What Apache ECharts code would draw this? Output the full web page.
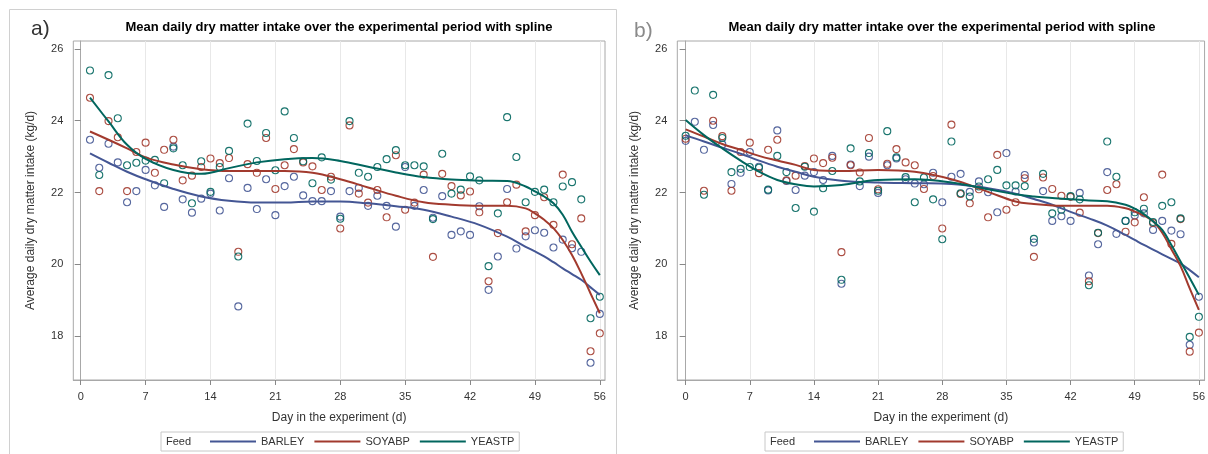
<!DOCTYPE html>
<html><head><meta charset="utf-8">
<script src="https://cdn.jsdelivr.net/npm/echarts@6/dist/echarts.min.js"></script>
<style>html,body{margin:0;padding:0;background:#fff}#c{width:1208px;height:454px}</style>
</head><body><div id="c"></div>
<script>
const FEEDS = ['BARLEY', 'SOYABP', 'YEASTP'];
const COLORS = ['#445694', '#A23A2E', '#01665E'];
const TITLE = 'Mean daily dry matter intake over the experimental period with spline';
const X_NAME = 'Day in the experiment (d)';
const Y_NAME = 'Average daily dry matter intake (kg/d)';
const xTicks = [0, 7, 14, 21, 28, 35, 42, 49, 56];
const yTicks = [18, 20, 22, 24, 26];

// ---- panel a: observed means ----
const daysA = [1,2,3,4,5,6,7,8,9,10,11,12,13,14,15,16,17,18,19,20,21,22,23,24,25,26,27,28,29,30,31,32,33,34,35,36,37,38,39,40,41,42,43,44,45,46,47,48,49,50,51,52,53,54,55,56];
const barleyA = [23.47,22.69,23.36,22.84,21.73,22.04,22.63,22.20,21.60,23.28,21.81,21.44,21.83,21.97,21.50,22.40,18.83,22.13,21.54,22.37,21.37,22.18,22.44,21.92,21.76,21.76,22.04,21.33,22.04,22.13,21.63,21.91,21.63,21.05,22.71,21.63,22.07,21.30,21.90,20.82,20.92,20.82,21.62,19.29,20.22,22.10,20.44,20.78,20.95,20.88,20.47,20.69,20.45,20.35,17.26,18.62];
const soyabpA = [24.64,22.04,23.99,23.54,22.04,23.13,23.39,22.55,23.19,23.47,22.34,22.47,22.71,22.95,22.82,22.96,20.35,22.79,22.55,23.52,22.10,22.76,23.21,22.84,22.73,22.07,22.44,21.00,23.87,21.97,21.72,22.07,21.31,23.04,21.52,21.72,22.50,20.21,22.52,22.18,21.92,22.03,21.45,19.53,20.87,21.73,22.22,20.92,21.37,21.87,21.10,22.50,20.56,21.28,17.58,18.08];
const yeastpA = [25.40,22.49,25.27,24.07,22.76,22.83,22.89,22.91,22.26,23.23,22.76,21.70,22.87,22.02,22.71,23.16,20.22,23.92,22.88,23.66,22.62,24.26,23.52,22.87,22.26,22.98,22.36,21.27,23.99,22.55,22.44,22.71,22.93,23.18,22.76,22.76,22.73,21.26,23.08,21.97,22.08,22.45,22.34,19.95,21.42,24.10,22.99,21.73,22.02,22.08,21.73,22.17,22.29,21.81,18.50,19.10];

// ---- panel a: spline curves ----
const splineDaysA = [1,3,5,7,10,13,16,19,22,25,28,31,34,37,40,43,46,48,49,50,51,52,53,54,55,56];
const barleySplineA = [23.09,22.83,22.58,22.37,22.10,21.89,21.77,21.72,21.72,21.75,21.75,21.70,21.62,21.52,21.33,21.10,20.77,20.49,20.36,20.22,20.06,19.89,19.73,19.57,19.36,19.15];
const soyabpSplineA = [23.70,23.47,23.23,22.98,22.78,22.65,22.60,22.60,22.60,22.55,22.37,22.14,21.91,21.73,21.66,21.63,21.63,21.56,21.42,21.24,21.01,20.68,20.26,19.75,19.19,18.64];
const yeastpSplineA = [24.64,23.98,23.33,22.94,22.63,22.52,22.68,22.84,22.93,22.96,22.88,22.72,22.56,22.43,22.36,22.33,22.32,22.17,22.03,21.89,21.70,21.38,20.91,20.49,20.08,19.70];

// ---- panel b: observed means ----
const daysB = [0,1,2,3,4,5,6,7,8,9,10,11,12,13,14,15,16,17,18,19,20,21,22,23,24,25,26,27,28,29,30,31,32,33,34,35,36,37,38,39,40,41,42,43,44,45,46,47,48,49,50,51,52,53,54,55,56];
const barleyB = [23.44,23.97,23.19,23.88,23.34,22.24,22.55,23.13,22.72,22.06,23.73,22.32,22.07,22.47,22.57,22.35,23.02,19.46,22.78,22.18,23.00,21.99,22.76,22.95,22.37,22.25,22.23,22.55,21.73,22.44,22.52,22.02,22.31,22.01,21.45,23.10,22.03,22.49,20.61,22.04,21.21,21.34,21.21,21.99,19.69,20.56,22.57,20.85,21.21,21.36,21.42,20.96,21.21,20.94,20.84,17.76,19.10];
const soyabpB = [23.50,null,22.05,24.00,23.57,22.05,23.13,23.39,22.54,23.19,23.47,22.34,22.47,22.74,22.95,22.82,22.97,20.34,22.76,22.56,23.52,22.09,22.80,23.21,22.84,22.76,22.10,22.46,21.00,23.89,21.96,21.70,22.09,21.31,23.05,21.52,21.73,22.40,20.21,22.42,22.10,21.91,21.88,21.44,19.53,20.87,22.07,22.23,20.91,21.17,21.87,21.15,22.50,20.57,21.26,17.57,18.10];
const yeastpB = [23.58,24.84,21.94,24.72,23.52,22.57,22.66,22.71,22.69,22.08,23.02,22.57,21.57,22.72,21.47,22.12,22.60,19.57,23.23,22.31,23.10,22.05,23.71,22.98,22.43,21.73,22.42,21.81,20.70,23.42,21.98,21.89,22.17,22.37,22.63,22.20,22.20,22.18,20.71,22.52,21.42,21.52,21.90,21.81,19.42,20.88,23.42,22.44,21.21,21.45,21.55,21.18,21.63,21.73,21.28,17.98,18.54];

// ---- panel b: spline curves ----
const splineDaysB = [0,2,4,6,8,10,12,14,17,21,25,29,33,36,38,40,42,44,46,48,49,50,51,52,53,54,55,56];
const barleySplineB = [23.60,23.42,23.25,23.08,22.89,22.72,22.58,22.44,22.33,22.28,22.26,22.24,22.12,21.97,21.82,21.66,21.46,21.28,21.08,20.82,20.68,20.54,20.41,20.28,20.15,20.02,19.84,19.64];
const soyabpSplineB = [23.76,23.56,23.35,23.19,23.02,22.89,22.77,22.63,22.60,22.63,22.58,22.37,22.02,21.75,21.68,21.64,21.63,21.63,21.63,21.56,21.47,21.36,21.20,20.88,20.42,19.95,19.33,18.73];
const yeastpSplineB = [24.02,23.60,23.23,22.89,22.58,22.35,22.23,22.17,22.21,22.35,22.37,22.28,22.09,21.95,21.89,21.85,21.81,21.78,21.76,21.66,21.55,21.40,21.20,20.96,20.54,20.08,19.62,19.15];

function pairs(days, vals) {
  const out = [];
  days.forEach((d, i) => { if (vals[i] != null) out.push([d, vals[i]]); });
  return out;
}

const FONT = 'Liberation Sans, Arial, sans-serif';
const obsA = [barleyA, soyabpA, yeastpA];
const splA = [barleySplineA, soyabpSplineA, yeastpSplineA];
const obsB = [barleyB, soyabpB, yeastpB];
const splB = [barleySplineB, soyabpSplineB, yeastpSplineB];

function panelAxes(idx, xmin, xmax) {
  const xAxis = {
    type: 'value', gridIndex: idx, min: xmin, max: xmax,
    name: X_NAME, nameLocation: 'middle', nameGap: 32,
    nameTextStyle: { fontFamily: FONT, fontSize: 12, color: '#333' },
    axisLine: { show: true, lineStyle: { color: '#a8a8a8' } },
    axisTick: { show: true, length: 5, lineStyle: { color: '#888' }, customValues: xTicks },
    axisLabel: { fontFamily: FONT, fontSize: 11, color: '#333', margin: 11, customValues: xTicks },
    splitLine: { show: true, lineStyle: { color: '#e8e8e8', width: 1 } }
  };
  const yAxis = {
    type: 'value', gridIndex: idx, min: 16.78, max: 26.22,
    name: Y_NAME, nameLocation: 'middle', nameGap: 37, nameRotate: 90,
    nameTextStyle: { fontFamily: FONT, fontSize: 12, color: '#333' },
    axisLine: { show: true, lineStyle: { color: '#a8a8a8' } },
    axisTick: { show: true, length: 6, lineStyle: { color: '#888' }, customValues: yTicks },
    axisLabel: { fontFamily: FONT, fontSize: 11, color: '#333', margin: 10, customValues: yTicks },
    splitLine: { show: false }
  };
  return [xAxis, yAxis];
}

const [xa, ya] = panelAxes(0, -0.8, 56.56);
const [xb, yb] = panelAxes(1, -0.91, 56.62);

const series = [];
[[daysA, obsA, splineDaysA, splA, 0], [daysB, obsB, splineDaysB, splB, 1]].forEach(([days, obs, sd, spl, p]) => {
  FEEDS.forEach((f, k) => {
    series.push({
      name: f + ' obs ' + p, type: 'scatter', xAxisIndex: p, yAxisIndex: p,
      data: pairs(days, obs[k]), symbol: 'circle', symbolSize: 7, silent: true, z: 2,
      itemStyle: { color: 'rgba(255,255,255,0)', borderColor: COLORS[k], borderWidth: 1.1, opacity: 0.9 }
    });
  });
  FEEDS.forEach((f, k) => {
    series.push({
      name: f, type: 'line', xAxisIndex: p, yAxisIndex: p,
      data: pairs(sd, spl[k]), smooth: 0.4, symbol: 'none', silent: true, z: 3,
      lineStyle: { color: COLORS[k], width: 2 }, itemStyle: { color: COLORS[k] }
    });
  });
});

function legendAt(left) {
  return {
    data: FEEDS.map(n => ({ name: n, icon: 'rect' })), left: left, top: 432, orient: 'horizontal',
    padding: [3, 5, 3, 49], itemWidth: 46, itemHeight: 2, itemGap: 10,
    borderColor: '#c8c8c8', borderWidth: 1, selectedMode: false,
    textStyle: { fontFamily: FONT, fontSize: 11, color: '#333', lineHeight: 13 }
  };
}

const option = {
  animation: false,
  backgroundColor: '#fff',
  title: [
    { text: TITLE, left: 339, top: 21, textAlign: 'center', padding: 0,
      textStyle: { fontFamily: FONT, fontSize: 13, fontWeight: 'bold', color: '#000' } },
    { text: TITLE, left: 942, top: 21, textAlign: 'center', padding: 0,
      textStyle: { fontFamily: FONT, fontSize: 13, fontWeight: 'bold', color: '#000' } }
  ],
  grid: [
    { left: 73.3, top: 41, width: 531.7, height: 339, show: true, borderColor: '#a8a8a8', borderWidth: 1, backgroundColor: 'transparent' },
    { left: 677.3, top: 41, width: 529.7, height: 339, show: true, borderColor: '#a8a8a8', borderWidth: 1, backgroundColor: 'transparent' }
  ],
  xAxis: [xa, xb],
  yAxis: [ya, yb],
  legend: [legendAt(161), legendAt(765)],
  series: series,
  graphic: [
    { type: 'line', shape: { x1: 9.5, y1: 9.5, x2: 616.5, y2: 9.5 }, style: { stroke: '#d0d0d0', lineWidth: 1 }, silent: true },
    { type: 'line', shape: { x1: 9.5, y1: 9.5, x2: 9.5, y2: 454 }, style: { stroke: '#d0d0d0', lineWidth: 1 }, silent: true },
    { type: 'line', shape: { x1: 616.5, y1: 9.5, x2: 616.5, y2: 454 }, style: { stroke: '#d0d0d0', lineWidth: 1 }, silent: true },
    { type: 'text', left: 31, top: 19, style: { text: 'a)', font: '21px ' + FONT, fill: '#333' }, silent: true },
    { type: 'text', left: 634, top: 21, style: { text: 'b)', font: '21px ' + FONT, fill: '#8a8a8a' }, silent: true },
    { type: 'text', left: 166, top: 436, style: { text: 'Feed', font: '11px ' + FONT, fill: '#333' }, silent: true },
    { type: 'text', left: 770, top: 436, style: { text: 'Feed', font: '11px ' + FONT, fill: '#333' }, silent: true }
  ]
};

const chart = echarts.init(document.getElementById('c'), null, { renderer: 'canvas' });
chart.setOption(option);
</script>
</body></html>
